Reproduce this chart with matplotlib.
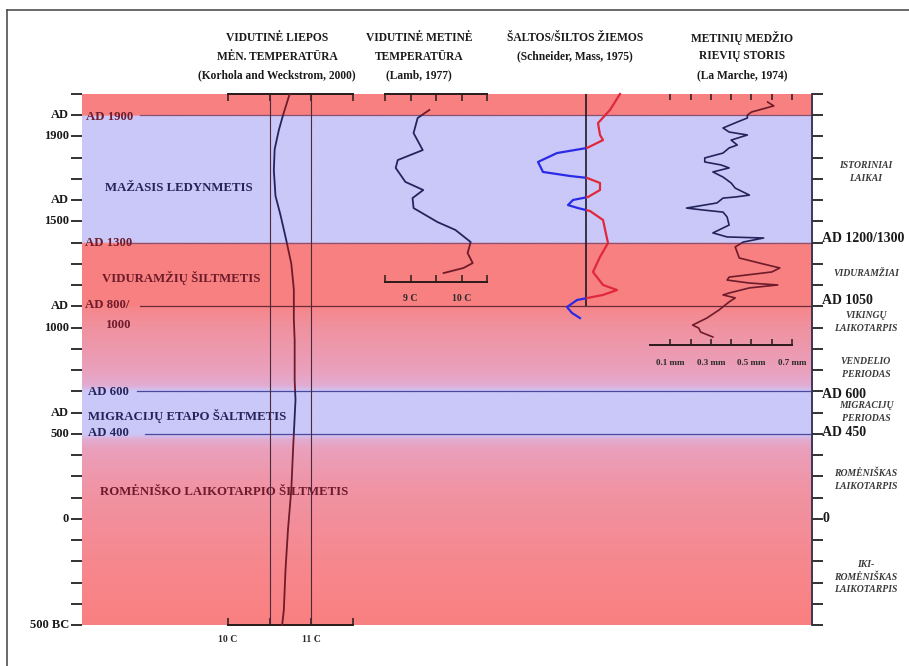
import numpy as np
import matplotlib.pyplot as plt
from matplotlib import transforms
from matplotlib.lines import Line2D
from matplotlib.patches import Rectangle

plt.rcParams['font.family'] = ['Liberation Serif', 'DejaVu Serif']
plt.rcParams['font.weight'] = 'bold'

W, H = 909, 666

# --- data -------------------------------------------------------------
# mean July temperature (Korhola and Weckstrom, 2000)
july_years = [2000, 1900, 1830, 1740, 1640, 1520, 1430, 1310, 1200, 1080,
              940, 840, 650, 560, 320, 140, -50, -240, -430, -500]
july_temp = [10.74, 10.66, 10.61, 10.56, 10.55, 10.57, 10.63, 10.70, 10.76, 10.79,
             10.79, 10.80, 10.80, 10.81, 10.78, 10.76, 10.72, 10.69, 10.67, 10.65]

# mean annual temperature (Lamb, 1977)
annual_years = [1925, 1887, 1816, 1736, 1689, 1652, 1586, 1548, 1510, 1463,
                1397, 1360, 1303, 1251, 1204, 1181, 1157]
annual_temp = [9.37, 9.14, 9.06, 9.24, 8.75, 8.71, 8.90, 9.25, 9.04, 9.06,
               9.53, 9.88, 10.18, 10.12, 10.22, 10.04, 9.65]

# cold / warm winters index (Schneider, Mass, 1975)
winter_years = [2000, 1925, 1863, 1807, 1783, 1746, 1722, 1680, 1633, 1614,
                1605, 1581, 1548, 1515, 1501, 1477, 1463, 1449, 1407, 1298,
                1233, 1162, 1101, 1077, 1054, 1030, 997, 969, 945]
winter_index = [3.4, 2.4, 1.2, 1.4, 1.7, 0.1, -2.9, -4.8, -4.3, -1.6,
                0.1, 1.4, 1.4, 0.2, -1.3, -1.8, -0.8, 0.4, 1.7, 2.2,
                1.4, 0.7, 1.7, 3.1, 1.7, -0.9, -1.9, -1.4, -0.6]

# annual tree ring width, mm (La Marche, 1974)
ring_years = [1962, 1944, 1915, 1901, 1887, 1868, 1840, 1821, 1807, 1783,
              1760, 1746, 1722, 1699, 1680, 1666, 1652, 1633, 1609, 1581,
              1557, 1524, 1515, 1510, 1487, 1463, 1454, 1444, 1421, 1383,
              1346, 1327, 1322, 1303, 1280, 1228, 1204, 1181, 1162, 1138,
              1124, 1110, 1101, 1087, 1063, 1054, 1040, 1021, 983, 945,
              912, 898, 879, 856]
ring_mm = [0.58, 0.61, 0.50, 0.48, 0.48, 0.43, 0.36, 0.39, 0.48, 0.40,
           0.43, 0.39, 0.36, 0.27, 0.27, 0.35, 0.39, 0.31, 0.36, 0.40,
           0.42, 0.49, 0.42, 0.36, 0.33, 0.18, 0.26, 0.36, 0.38, 0.39,
           0.31, 0.38, 0.56, 0.46, 0.42, 0.44, 0.54, 0.64, 0.60, 0.39,
           0.38, 0.49, 0.63, 0.49, 0.39, 0.36, 0.42, 0.39, 0.34, 0.28,
           0.21, 0.24, 0.25, 0.31]

# left time axis: year, upper line, lower line
left_labels = [(1900, 'AD', '1900'), (1500, 'AD', '1500'), (1000, 'AD', '1000'),
               (500, 'AD', '500'), (0, '0', ''), (-500, '500 BC', '')]

# climate periods written inside the plot: year, x, text, warm?
period_labels = [(1892, 86, 'AD 1900', True),
                 (1557, 105, 'MAŽASIS LEDYNMETIS', False),
                 (1298, 85, 'AD 1300', True),
                 (1134, 102, 'VIDURAMŽIŲ ŠILTMETIS', True),
                 (1007, 85, 'AD 800/', True),
                 (912, 106, '1000', True),
                 (597, 88, 'AD 600', False),
                 (484, 88, 'MIGRACIJŲ ETAPO ŠALTMETIS', False),
                 (404, 88, 'AD 400', False),
                 (126, 100, 'ROMĖNIŠKO LAIKOTARPIO ŠILTMETIS', True)]

# boundary lines: year, start x, colour
boundaries = [(1900, 140, '#8a5070'), (1300, 128, '#8a5070'),
              (1000, 140, '#6e2a3a'), (600, 137, '#4a4aa0'), (400, 145, '#4a4aa0')]

right_marks = [(1318, 'AD 1200/1300'), (1030, 'AD 1050'), (585, 'AD 600'),
               (405, 'AD 450'), (0, '0')]
right_eras = [(1633, 'ISTORINIAI\nLAIKAI'), (1157, 'VIDURAMŽIAI'),
              (927, 'VIKINGŲ\nLAIKOTARPIS'), (710, 'VENDELIO\nPERIODAS'),
              (503, 'MIGRACIJŲ\nPERIODAS'), (183, 'ROMĖNIŠKAS\nLAIKOTARPIS'),
              (-274, 'IKI-\nROMĖNIŠKAS\nLAIKOTARPIS')]

headers = [(277, ['VIDUTINĖ LIEPOS', 'MĖN. TEMPERATŪRA', '(Korhola and Weckstrom, 2000)']),
           (419, ['VIDUTINĖ METINĖ', 'TEMPERATŪRA', '(Lamb, 1977)']),
           (575, ['ŠALTOS/ŠILTOS ŽIEMOS', '(Schneider, Mass, 1975)']),
           (742, ['METINIŲ MEDŽIO', 'RIEVIŲ STORIS', '(La Marche, 1974)'])]

# background colour stops along the time axis
bg_years = [-500, -200, 150, 330, 372, 400, 600, 628, 700, 900, 999,
            1000, 1299, 1300, 1899, 1900, 2000]
bg_colors = np.array([(250, 128, 128), (246, 136, 142), (240, 148, 165), (234, 160, 188),
                      (226, 172, 208), (202, 200, 248), (202, 200, 248), (226, 172, 210),
                      (234, 160, 188), (240, 146, 160), (246, 134, 138),
                      (248, 128, 128), (248, 128, 128), (202, 200, 248), (202, 200, 248),
                      (248, 128, 128), (248, 128, 128)], dtype=float)

WARM = '#6e1b2b'
COLD = '#24245c'
cold_spans = [(1300, 1900), (400, 600)]
warm_spans = [(1900, 2100), (600, 1300), (-600, 400)]

# --- figure -----------------------------------------------------------
fig = plt.figure(figsize=(W / 100, H / 100), dpi=100)
ax = fig.add_axes([82 / W, (H - 625) / H, 730 / W, 531 / H])
ax.set_xlim(82, 812)
ax.set_ylim(-500, 2000)

yy = np.linspace(-500, 2000, 1200)
rgb = np.stack([np.interp(yy, bg_years, bg_colors[:, i]) for i in range(3)], axis=-1) / 255
ax.imshow(rgb[::-1, None, :], extent=[82, 812, -500, 2000], aspect='auto',
          interpolation='bilinear', zorder=0)

for yr, x0, c in boundaries:
    ax.plot([x0, 812], [yr, yr], color=c, lw=0.9, zorder=1)

ax.set_xticks([])
ax.set_yticks(range(-500, 2001, 100))
ax.tick_params(axis='y', left=True, right=True, labelleft=False, labelright=False,
               length=8, width=1.3, color='#222222')
for side in ['top', 'bottom', 'left']:
    ax.spines[side].set_visible(False)
ax.spines['right'].set_color('#303050')
ax.spines['right'].set_linewidth(1.3)

for yr, top, bottom in left_labels:
    ax.text(69, yr, top, ha='right', va='center', fontsize=9, color='#1a1a1a')
    if bottom:
        ax.text(69, yr - 100, bottom, ha='right', va='center', fontsize=9, color='#1a1a1a')

for yr, x, txt, warm in period_labels:
    ax.text(x, yr, txt, ha='left', va='center', fontsize=9.2,
            color=WARM if warm else COLD, zorder=5)

for yr, txt in right_marks:
    ax.text(822, yr, txt, ha='left', va='center', fontsize=10, color='#1a1a1a')
for yr, txt in right_eras:
    ax.text(866, yr, txt, ha='center', va='center', fontsize=7, style='italic',
            color='#3a3a3a', linespacing=1.5)

for xc, lines in headers:
    for i, line in enumerate(lines):
        fig.text(xc / W, 1 - (38 + 18.5 * i) / H, line, ha='center', va='center',
                 fontsize=8.3, color='#1a1a1a')

# outer frame
fig.add_artist(Line2D([7 / W, 1], [1 - 10 / H] * 2, color='#505050', lw=1.2))
fig.add_artist(Line2D([7 / W] * 2, [0, 1 - 10 / H], color='#505050', lw=1.2))


def column_axes(x0, x1, yr_lo, yr_hi, xlim):
    _, y_lo = ax.transData.transform((x0, yr_lo))
    _, y_hi = ax.transData.transform((x0, yr_hi))
    cax = fig.add_axes([x0 / W, y_lo / H, (x1 - x0) / W, (y_hi - y_lo) / H])
    cax.set_xlim(*xlim)
    cax.set_ylim(yr_lo, yr_hi)
    cax.set_facecolor('none')
    for s in cax.spines.values():
        s.set_visible(False)
    cax.set_yticks([])
    return cax


def banded_line(cax, x, y, lw):
    blend = transforms.blended_transform_factory(cax.transAxes, cax.transData)
    for spans, color in [(cold_spans, COLD), (warm_spans, WARM)]:
        for lo, hi in spans:
            line, = cax.plot(x, y, color=color, lw=lw, solid_joinstyle='round', zorder=3)
            line.set_clip_path(Rectangle((-1, lo), 3, hi - lo, transform=blend))


def bracket(cax, ticks, labels, pad, top_line=True):
    cax.spines['bottom'].set_visible(True)
    cax.spines['top'].set_visible(top_line)
    for s in ['top', 'bottom']:
        cax.spines[s].set_color('#2a1a1a')
        cax.spines[s].set_linewidth(1.4)
    cax.set_xticks(ticks)
    cax.set_xticklabels(labels)
    cax.tick_params(axis='x', direction='in', top=True, bottom=True, length=5,
                    width=1.1, color='#2a1a1a', labelsize=7, pad=pad, labelcolor='#2a2a2a')


# column 1: July temperature
c1 = column_axes(228, 353, -500, 2000, (10, 11.5))
bracket(c1, [10, 10.5, 11, 11.5], ['10 C', '', '11 C', ''], pad=7)
for t in [10.5, 11.0]:
    c1.axvline(t, color='#4a2a3a', lw=0.8, zorder=2)
banded_line(c1, july_temp, july_years, 1.3)

# column 2: annual temperature
c2 = column_axes(385, 487, 1115, 2000, (8.5, 10.5))
bracket(c2, [8.5, 9, 9.5, 10, 10.5], ['', '9 C', '', '10 C', ''], pad=9)
banded_line(c2, annual_temp, annual_years, 1.3)

# column 3: cold / warm winters
c3 = column_axes(530, 640, -500, 2000, (-5.6, 5.4))
c3.set_xticks([])
c3.vlines(0, 1000, 2000, color='#1a1a2a', lw=1.2, zorder=2)
blend3 = transforms.blended_transform_factory(c3.transData, c3.transAxes)
for lo, c in [(0, '#e0283a'), (-100, '#2a2ae6')]:
    line, = c3.plot(winter_index, winter_years, color=c, lw=1.6,
                    solid_joinstyle='round', zorder=3)
    line.set_clip_path(Rectangle((lo, -1), 100, 3, transform=blend3))

# column 4: tree ring width
c4 = column_axes(650, 792, 818, 2000, (0, 0.7))
bracket(c4, [0.1, 0.2, 0.3, 0.4, 0.5, 0.6, 0.7],
        ['0.1 mm', '', '0.3 mm', '', '0.5 mm', '', '0.7 mm'], pad=10, top_line=False)
c4.tick_params(axis='x', labelsize=6.5, length=4)
banded_line(c4, ring_mm, ring_years, 1.2)

fig.savefig('out.png', dpi=100)
